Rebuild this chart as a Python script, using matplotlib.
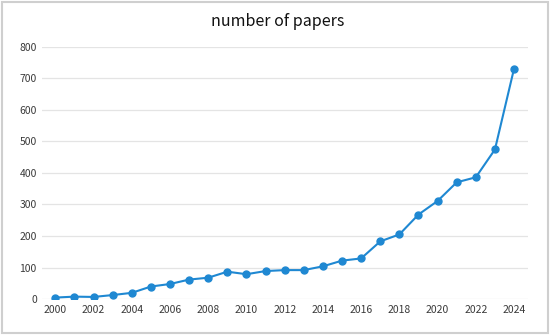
import matplotlib.pyplot as plt
from matplotlib.patches import Rectangle

plt.rcParams['font.family'] = ['Noto Sans CJK SC', 'DejaVu Sans']

years = list(range(2000, 2025))
papers = [5, 8, 7, 13, 20, 40, 48, 62, 68, 87, 79, 89, 92, 92, 104,
          122, 129, 183, 205, 268, 311, 370, 386, 474, 730]
xtick_labels = [str(y) for y in range(2000, 2025, 2)]
yticks = [0, 100, 200, 300, 400, 500, 600, 700, 800]

fig = plt.figure(figsize=(5.5, 3.35), dpi=100)
ax = fig.add_axes([0.077, 0.107, 0.883, 0.754])

ax.plot(years, papers, color='#1f88d2', lw=1.5, marker='o', ms=5, zorder=3)

ax.set_xlim(1999.32, 2024.73)
ax.set_ylim(0, 800)
ax.set_xticks(range(2000, 2025, 2))
ax.set_xticklabels(xtick_labels)
ax.set_yticks(yticks)
ax.tick_params(length=0, labelsize=7.5, colors='#3a3a3a', pad=4)
ax.grid(axis='y', color='#e4e4e4', lw=0.9)
for s in ax.spines.values():
    s.set_visible(False)

fig.text(0.505, 0.935, 'number of papers', ha='center', va='center',
         fontsize=11.5, fontweight='medium', color='#111111')

fig.patches.append(Rectangle((0.004, 0.006), 0.992, 0.988, transform=fig.transFigure,
                             fill=False, ec='#cfcfcf', lw=1.5))

fig.savefig('out.png', dpi=100)
